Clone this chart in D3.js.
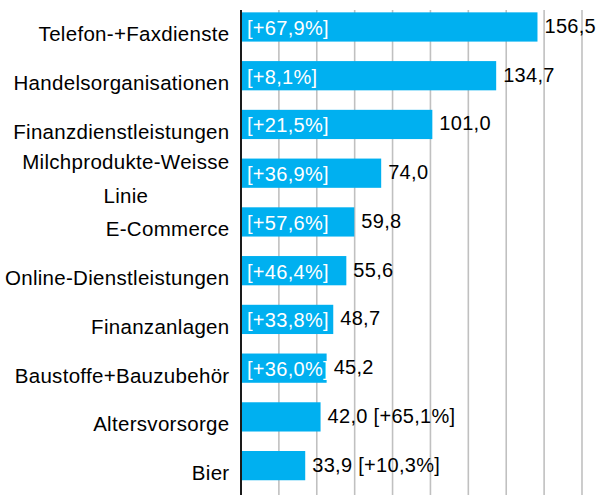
<!DOCTYPE html>
<html>
<head>
<meta charset="utf-8">
<script src="https://cdn.jsdelivr.net/npm/d3@7"></script>
<style>
  body { margin: 0; background: #fff; }
  svg text { font-family: "Liberation Sans", Arial, sans-serif; }
</style>
</head>
<body>
<svg id="chart" width="607" height="495"></svg>
<script>
// Chart data
const categories = ["Telefon-+Faxdienste", "Handelsorganisationen", "Finanzdienstleistungen",
                    "Milchprodukte-Weisse Linie", "E-Commerce", "Online-Dienstleistungen",
                    "Finanzanlagen", "Baustoffe+Bauzubehör", "Altersvorsorge", "Bier"]
const values = [156.5, 134.7, 101.0, 74.0, 59.8, 55.6, 48.7, 45.2, 42.0, 33.9]
const changes = [67.9, 8.1, 21.5, 36.9, 57.6, 46.4, 33.8, 36.0, 65.1, 10.3]
const gridTicks = [20, 40, 60, 80, 100, 120, 140, 160, 180]

const de = d3.formatLocale({decimal: ",", thousands: ".", grouping: [3], currency: ["", " €"]})
const fmtVal = de.format(".1f")
const fmtPct = de.format("+.1f")

const svg = d3.select("#chart")
const width = 607, height = 495

const x = d3.scaleLinear().domain([0, 180]).range([241, 582])
const y = d3.scaleBand()
    .domain(categories)
    .range([2.6, 490])
    .paddingInner(0.4)
    .paddingOuter(0.2)

svg.append("rect").attr("width", width).attr("height", height).attr("fill", "#fff")

// vertical gridlines
svg.append("g")
    .selectAll("line")
    .data(gridTicks)
    .join("line")
        .attr("x1", d => x(d)).attr("x2", d => x(d))
        .attr("y1", 10).attr("y2", height)
        .attr("stroke", "#c0c0c0")
        .attr("stroke-width", 1.6)

// bars
svg.append("g")
    .selectAll("rect")
    .data(categories)
    .join("rect")
        .attr("x", x(0))
        .attr("y", d => y(d))
        .attr("width", (d, i) => x(values[i]) - x(0))
        .attr("height", y.bandwidth())
        .attr("fill", "#00b0f0")

// axis line
svg.append("line")
    .attr("x1", x(0)).attr("x2", x(0))
    .attr("y1", 10).attr("y2", height)
    .attr("stroke", "#1a1a1a")
    .attr("stroke-width", 2)

// category labels (wrap long ones into a centred block)
const catG = svg.append("g")
categories.forEach((c, i) => {
    const cy = y(c) + y.bandwidth() / 2 + 7
    const t = catG.append("text")
        .attr("font-size", 20.5)
        .attr("letter-spacing", 0.3)
        .attr("fill", "#000")
        .attr("text-anchor", "end")
        .attr("dominant-baseline", "central")
        .attr("x", 229.5).attr("y", cy)
        .text(c)
    if (t.node().getComputedTextLength() > 228 && c.includes(" ")) {
        const cut = c.lastIndexOf(" ")
        const lines = [c.slice(0, cut), c.slice(cut + 1)]
        t.text(lines[0])
        const w = t.node().getComputedTextLength()
        t.remove()
        const lh = 34
        lines.forEach((ln, k) => {
            catG.append("text")
                .attr("font-size", 20.5)
                .attr("letter-spacing", 0.3)
                .attr("fill", "#000")
                .attr("text-anchor", "middle")
                .attr("dominant-baseline", "central")
                .attr("x", 229.5 - w / 2)
                .attr("y", cy - 1.5 + (k - (lines.length - 1) / 2) * lh)
                .text(ln)
        })
    }
})

// percent change inside bars (or appended after the value when it doesn't fit)
const labG = svg.append("g")
categories.forEach((c, i) => {
    const cy = y(c) + y.bandwidth() / 2
    const barW = x(values[i]) - x(0)
    const pct = "[" + fmtPct(changes[i]) + "%]"
    const inside = labG.append("text")
        .attr("font-size", 20)
        .attr("letter-spacing", 0.3)
        .attr("fill", "#fff")
        .attr("dominant-baseline", "central")
        .attr("x", x(0) + 6).attr("y", cy + 1)
        .text(pct)
    let valText = fmtVal(values[i])
    if (inside.node().getComputedTextLength() > barW) {
        inside.remove()
        valText += " " + pct
    }
    labG.append("text")
        .attr("font-size", 20)
        .attr("letter-spacing", 0.3)
        .attr("fill", "#000")
        .attr("dominant-baseline", "central")
        .attr("x", x(values[i]) + 7).attr("y", cy - 1)
        .text(valText)
})
</script>
</body>
</html>
